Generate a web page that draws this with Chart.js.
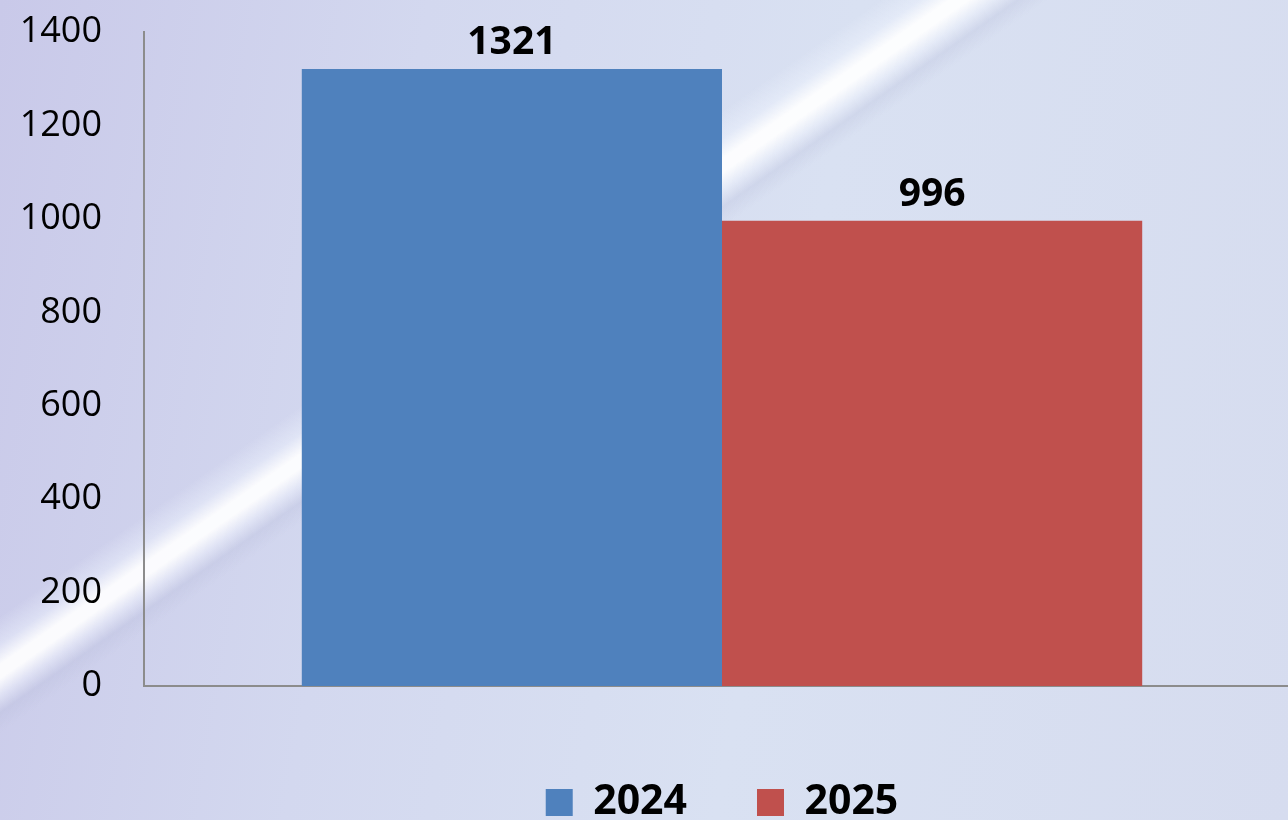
<!DOCTYPE html>
<html>
<head>
<meta charset="utf-8">
<script src="https://cdn.jsdelivr.net/npm/chart.js@4"></script>
<style>
  html, body { margin: 0; padding: 0; overflow: hidden; width: 1288px; height: 820px; }
  body {
    background:
      linear-gradient(145deg,
        rgba(255,255,255,0) 35.8%,
        rgba(240,245,255,0.45) 37.4%,
        rgba(255,255,255,0.92) 38.6%,
        rgba(255,255,255,0.92) 39.4%,
        rgba(245,248,255,0.45) 40.4%,
        rgba(180,185,215,0.25) 41.4%,
        rgba(255,255,255,0) 42.6%),
      linear-gradient(100deg, #c9c9e9 0%, #d3d8ef 30%, #d9e1f2 60%, #d6dcef 100%);
  }
  #wrap { position: absolute; left: 0; top: 0; width: 1300px; height: 833px; }
</style>
</head>
<body>
<div id="wrap"><canvas id="c"></canvas></div>
<script>
const categories = [""];
const seriesNames = ["2024", "2025"];
const values2024 = [1321];
const values2025 = [996];
const seriesColors = ["#4f81bd", "#c0504d"];
const yTicks = [0, 200, 400, 600, 800, 1000, 1200, 1400];

const valueLabels = {
  id: 'valueLabels',
  afterDatasetsDraw(chart) {
    const ctx = chart.ctx;
    ctx.save();
    ctx.font = 'bold 39px "Open Sans"';
    ctx.fillStyle = '#000';
    ctx.textAlign = 'center';
    ctx.textBaseline = 'alphabetic';
    chart.data.datasets.forEach((ds, i) => {
      chart.getDatasetMeta(i).data.forEach((bar, j) => {
        ctx.fillText(String(ds.data[j]), bar.x, bar.y - 15);
      });
    });
    ctx.restore();
  }
};

new Chart(document.getElementById('c'), {
  type: 'bar',
  data: {
    labels: categories,
    datasets: [
      { label: seriesNames[0], data: values2024, backgroundColor: seriesColors[0] },
      { label: seriesNames[1], data: values2025, backgroundColor: seriesColors[1] }
    ]
  },
  options: {
    responsive: true,
    maintainAspectRatio: false,
    animation: false,
    datasets: { bar: { barPercentage: 1, categoryPercentage: 0.727 } },
    layout: { padding: { top: 32, left: 0, right: 0, bottom: 0 } },
    scales: {
      x: {
        afterFit(s) { s.height = 26; },
        grid: { display: false, drawTicks: false },
        border: { display: true, color: '#8c8c8c', width: 2 },
        ticks: { display: false }
      },
      y: {
        min: 0, max: 1400,
        afterFit(s) { s.width = 144; },
        afterBuildTicks(s) { s.ticks = yTicks.map(v => ({ value: v })); },
        grid: { display: false, drawTicks: true, tickLength: 42 },
        border: { display: true, color: '#8c8c8c', width: 2 },
        ticks: {
          color: '#000', padding: 0,
          font: { family: '"Open Sans"', size: 36 },
          callback: (v) => String(v)
        }
      }
    },
    plugins: {
      tooltip: { enabled: false },
      legend: {
        position: 'bottom',
        fullSize: false,
        labels: {
          color: '#000',
          boxWidth: 27,
          boxHeight: 27,
          padding: 70,
          font: { family: '"Open Sans"', size: 41, weight: 'bold' }
        }
      }
    }
  },
  plugins: [valueLabels]
});
</script>
</body>
</html>
